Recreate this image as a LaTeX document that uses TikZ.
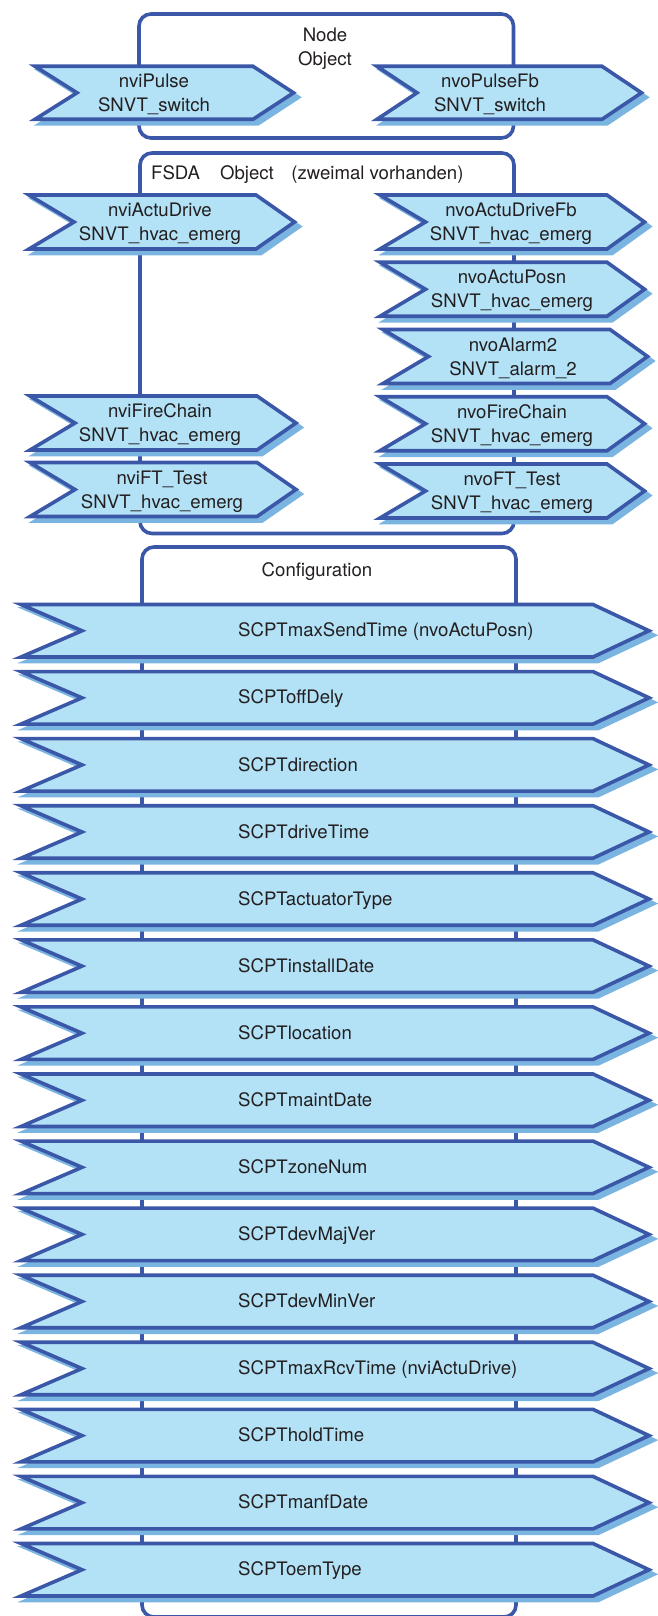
\documentclass[tikz,border=0pt]{standalone}
\usepackage{fontspec}
\setmainfont{TeX Gyre Heros}

\definecolor{fillblue}{RGB}{179,226,247}
\definecolor{shadeblue}{RGB}{122,180,225}
\definecolor{lineblue}{RGB}{59,87,167}
\definecolor{ink}{RGB}{35,31,32}

\tikzset{
  frame/.style={draw=lineblue, line width=3.6pt, rounded corners=12pt},
  flagbody/.style={draw=lineblue, fill=fillblue, line width=3.6pt, line join=miter, miter limit=12},
  flagshade/.style={draw=shadeblue, fill=shadeblue, line width=3.6pt, line join=miter, miter limit=12},
  lbl/.style={font=\fontsize{18.6pt}{24pt}\selectfont, text=ink, inner sep=0pt, align=center},
}

% chevron flag: left x, top y, notch x, corner x, tip x, height
\newcommand{\flag}[6]{%
  \path[flagshade, shift={(5,4.5)}] (#1,#2) -- (#4,#2) -- (#5,{#2+#6/2}) -- (#4,{#2+#6}) -- (#1,{#2+#6}) -- (#3,{#2+#6/2}) -- cycle;
  \path[flagbody] (#1,#2) -- (#4,#2) -- (#5,{#2+#6/2}) -- (#4,{#2+#6}) -- (#1,{#2+#6}) -- (#3,{#2+#6/2}) -- cycle;
}
% two centred lines with balanced struts
\newcommand{\twoline}[2]{\rule{0pt}{17.4pt}#1\\#2\rule[-4pt]{0pt}{4pt}}

\begin{document}
\begin{tikzpicture}[x=1pt, y=-1pt]
\useasboundingbox (0,0) rectangle (658,1616);

% object frames
\draw[frame] (139,14) rectangle (513.5,138);
\draw[frame] (140,153) rectangle (514,533.5);
\draw[frame] (142,547) rectangle (516,1617);

% node object
\node[lbl] (nodeobj) at (325,46.5) {\twoline{Node}{Object}};
\flag{35}{66.3}{77}{253}{293.5}{53}
\node[lbl] (nviPulse) at (154,92.8) {\twoline{nviPulse}{SNVT\_switch}};
\flag{377}{66.3}{417}{602}{641.5}{53}
\node[lbl] (nvoPulseFb) at (490,92.8) {\twoline{nvoPulseFb}{SNVT\_switch}};

% FSDA object
\node[lbl, anchor=base west] (fsda) at (151,179.5) {FSDA\hspace{20pt}Object\hspace{17.5pt}(zweimal vorhanden)};

\flag{29}{195}{74}{256}{294.5}{54}
\node[lbl] (nviActuDrive) at (160,222) {\twoline{nviActuDrive}{SNVT\_hvac\_emerg}};
\flag{30}{396}{75}{257}{296}{54}
\node[lbl] (nviFireChain) at (160,423) {\twoline{nviFireChain}{SNVT\_hvac\_emerg}};
\flag{30}{462.5}{75}{257}{296}{54}
\node[lbl] (nviFTTest) at (162,489.5) {\twoline{nviFT\_Test}{SNVT\_hvac\_emerg}};

\flag{380}{195}{425.5}{607}{644.5}{54}
\node[lbl] (nvoActuDriveFb) at (511,222) {\twoline{nvoActuDriveFb}{SNVT\_hvac\_emerg}};
\flag{380}{262.25}{425.5}{607}{644.5}{54}
\node[lbl] (nvoActuPosn) at (512,289.25) {\twoline{nvoActuPosn}{SNVT\_hvac\_emerg}};
\flag{383}{329.5}{428.5}{610}{647.5}{54}
\node[lbl] (nvoAlarm2) at (513,356.5) {\twoline{nvoAlarm2}{SNVT\_alarm\_2}};
\flag{380}{396.75}{425.5}{607}{644.5}{54}
\node[lbl] (nvoFireChain) at (512,423.75) {\twoline{nvoFireChain}{SNVT\_hvac\_emerg}};
\flag{380}{464}{425.5}{607}{644.5}{54}
\node[lbl] (nvoFTTest) at (512,491) {\twoline{nvoFT\_Test}{SNVT\_hvac\_emerg}};

% configuration properties
\node[lbl, anchor=base] (config) at (317,576.5) {Configuration};
\foreach \txt [count=\i from 0] in {SCPTmaxSendTime (nvoActuPosn), SCPToffDely, SCPTdirection,
    SCPTdriveTime, SCPTactuatorType, SCPTinstallDate, SCPTlocation, SCPTmaintDate,
    SCPTzoneNum, SCPTdevMajVer, SCPTdevMinVer, SCPTmaxRcvTime (nviActuDrive),
    SCPTholdTime, SCPTmanfDate, SCPToemType}{
  \pgfmathsetmacro{\T}{604.5+67.07*\i}
  \flag{21}{\T}{82}{593}{649}{52.5}
  \node[lbl, anchor=base west] (cfg\i) at (238,\T+32.4) {\txt};
}
\end{tikzpicture}
\end{document}
